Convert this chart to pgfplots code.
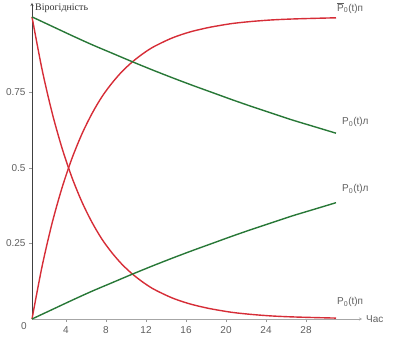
\documentclass[border=0pt]{standalone}
\usepackage{pgfplots}
\pgfplotsset{compat=1.18}
\usepackage{fontspec}
\setmainfont{Liberation Sans}
\newfontfamily\seriffont{Liberation Serif}
\definecolor{cred}{RGB}{214,45,55}
\definecolor{cgreen}{RGB}{40,120,55}
\definecolor{tgray}{RGB}{95,95,95}
\begin{document}
\begin{tikzpicture}
\path[use as bounding box] (-32pt,-18pt) rectangle (374pt,319pt);
\begin{axis}[
  scale only axis, width=330pt, height=316pt,
  xmin=0.6, xmax=33.6, ymin=0, ymax=1.046,
  axis x line=bottom, axis y line=left,
  x axis line style={-stealth, draw=gray!70},
  y axis line style={-stealth, draw=black!75},
  xtick={4,8,...,28}, ytick={0.25,0.5,0.75},
  yticklabels={0.25,0.5,0.75},
  tick align=outside, major tick length=3pt,
  tick style={draw=gray!80},
  tick label style={font=\fontsize{10}{12}\selectfont, text=tgray},
  /pgf/number format/assume math mode=true,
  xticklabel style={yshift=-1pt},
  clip=false,
  every axis plot/.append style={line width=1.4pt, no markers, smooth},
]
% red decreasing
\addplot[cred] coordinates {
(0.6,1.000)(1.6,0.827)(2.6,0.684)(3.6,0.566)(4.6,0.468)(5.6,0.387)(6.6,0.320)(7.6,0.264)(8.6,0.219)(9.6,0.181)(10.6,0.150)(11.6,0.124)(12.6,0.102)(13.6,0.085)(14.6,0.070)(15.6,0.058)(16.6,0.048)(17.6,0.040)(18.6,0.033)(20.6,0.022)(22.6,0.015)(24.6,0.010)(26.6,0.007)(28.6,0.005)(31.0,0.003)};
% red increasing
\addplot[cred] coordinates {
(0.6,0.000)(1.6,0.173)(2.6,0.316)(3.6,0.434)(4.6,0.532)(5.6,0.613)(6.6,0.680)(7.6,0.736)(8.6,0.781)(9.6,0.819)(10.6,0.850)(11.6,0.876)(12.6,0.898)(13.6,0.915)(14.6,0.930)(15.6,0.942)(16.6,0.952)(17.6,0.960)(18.6,0.967)(20.6,0.978)(22.6,0.985)(24.6,0.990)(26.6,0.993)(28.6,0.995)(31.0,0.997)};
% green decreasing
\addplot[cgreen] coordinates {
(0.6,1.000)(2.6,0.969)(4.6,0.938)(6.6,0.908)(8.6,0.880)(10.6,0.852)(12.6,0.825)(14.6,0.799)(16.6,0.774)(18.6,0.750)(20.6,0.726)(22.6,0.703)(24.6,0.681)(26.6,0.659)(28.6,0.639)(31.0,0.615)};
% green increasing
\addplot[cgreen] coordinates {
(0.6,0.000)(2.6,0.031)(4.6,0.062)(6.6,0.092)(8.6,0.120)(10.6,0.148)(12.6,0.175)(14.6,0.201)(16.6,0.226)(18.6,0.250)(20.6,0.274)(22.6,0.297)(24.6,0.319)(26.6,0.341)(28.6,0.361)(31.0,0.385)};
\begin{scope}[every node/.style={font=\fontsize{10}{12}\selectfont, text=tgray, anchor=west, inner sep=0pt}]
\node at (axis cs:31.1,1.03) {$\overline{\mbox{P}}$\textsubscript{0}(t)п};
\node at (axis cs:31.6,0.652) {P\textsubscript{0}(t)л};
\node at (axis cs:31.6,0.43) {P\textsubscript{0}(t)л};
\node at (axis cs:31.1,0.056) {P\textsubscript{0}(t)п};
\node at (axis cs:34.0,0) {Час};
\node[font=\seriffont\fontsize{10}{12}\selectfont, text=black!80] at (axis cs:0.9,1.03) {Вірогідність};
\node[anchor=center] at ([xshift=-8pt,yshift=-7pt]axis cs:0.6,0) {0};
\end{scope}
\end{axis}
\end{tikzpicture}
\end{document}
